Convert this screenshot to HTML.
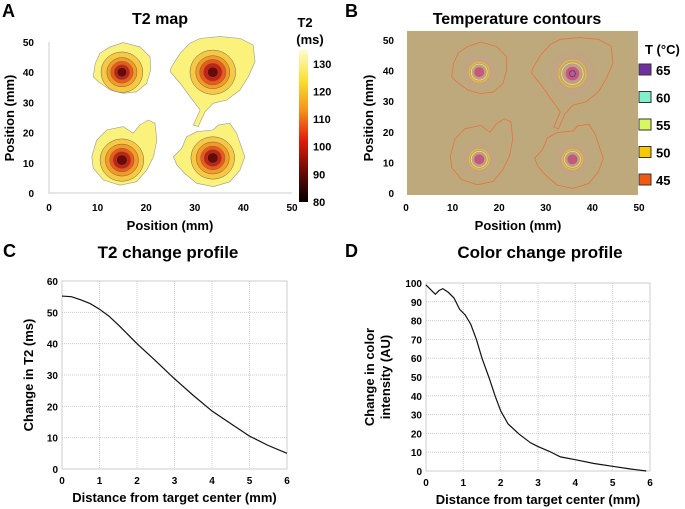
<!DOCTYPE html>
<html><head><meta charset="utf-8"><style>
body{margin:0;background:#fff;}
svg{display:block;font-family:"Liberation Sans",Arial,sans-serif;font-weight:bold;}
</style></head><body>
<svg id="fig" width="685" height="509" viewBox="0 0 685 509">
<defs>
<linearGradient id="cb" x1="0" y1="1" x2="0" y2="0">
<stop offset="0" stop-color="#000"/><stop offset="0.2" stop-color="#6a0a06"/><stop offset="0.4" stop-color="#e01a0c"/><stop offset="0.6" stop-color="#f5901c"/><stop offset="0.8" stop-color="#f8e030"/><stop offset="1" stop-color="#fdfbd0"/>
</linearGradient>
<radialGradient id="halo"><stop offset="0" stop-color="#c98c8a" stop-opacity="0.9"/><stop offset="0.5" stop-color="#c8a08a" stop-opacity="0.45"/><stop offset="1" stop-color="#bca87a" stop-opacity="0"/></radialGradient>
</defs>
<text x="2" y="17" font-size="18">A</text>
<text x="345" y="17" font-size="18">B</text>
<text x="3" y="257" font-size="18">C</text>
<text x="345" y="257" font-size="18">D</text>
<g id="pa"></g>
<g id="pb"></g>
<g id="pc"></g>
<g id="pd"></g>
</svg>
<script>
// Panel C data
const cX=[0,0.25,0.5,0.75,1,1.25,1.5,2,2.5,3,3.5,4,4.5,5,5.5,6];
const cY=[55.2,55,54,52.8,51,48.8,46,40,34.5,28.8,23.5,18.5,14.5,10.5,7.5,5];
const cXTicks=[0,1,2,3,4,5,6];
const cYTicks=[0,10,20,30,40,50,60];
// Panel D data
const dX=[0,0.1,0.25,0.35,0.45,0.6,0.75,0.9,1.05,1.2,1.35,1.5,1.7,1.85,2,2.2,2.5,2.8,3,3.3,3.6,4,4.5,5,5.5,5.9];
const dY=[99,97,94,96,97,95,92,86,83,78,70,60,49,40,32,25,19.5,15,13,10.5,7.5,6,4,2.5,1,0];
const dXTicks=[0,1,2,3,4,5,6];
const dYTicks=[0,10,20,30,40,50,60,70,80,90,100];
// Panel A/B axis ticks
const mapTicks=[0,10,20,30,40,50];
const cbTicks=[80,90,100,110,120,130];
const legendT=["65","60","55","50","45"];
const legendC=["#7030a0","#80f0c8","#d8f860","#f8c800","#f05a10"];
// T2 hotspot centers (mm) and ring radii (mm)
const blobCx=[15,33.7,15,33.7];
const blobCy=[40,40,10.9,11.6];
const ringR=[[4.3,3.1,2.3,1.6,1.0],[4.7,3.5,2.7,1.9,1.1],[4.5,3.4,2.5,1.8,1.1],[4.5,3.4,2.5,1.8,1.1]];
// yellow outer outlines (mm)
const outline=[
[[9.5,42.9],[10.5,46.3],[12.6,48.4],[15.3,49.8],[18.7,48.4],[20.8,45.1],[20.9,40.7],[20.1,36.3],[18,33.5],[15.3,33],[12.6,34.1],[10.1,36.9],[9.1,38.5]],
[[25.2,41.8],[27,46.3],[29,49.6],[31.1,51.2],[35.2,51.8],[39.3,51.2],[42,49],[42.4,43.5],[41,38.5],[39.3,34.1],[36.6,30.8],[33.8,29.7],[32.1,26.9],[30.7,22],[29.7,22.5],[31.1,27.5],[29,31.9],[27,36.3],[24.9,40.2]],
[[8.8,12],[9.8,17.5],[11.9,20.9],[15.3,22],[17.3,19.8],[18.7,22.5],[20.4,24.2],[21.8,23.1],[22.2,17.5],[21.5,12],[20.1,7.6],[18,3.7],[14.6,2.6],[11.2,4.3],[9.1,8.2]],
[[25.6,12],[27.3,14.8],[28.3,18.6],[30.4,20.3],[33.8,20.9],[34.8,22.5],[37.2,23.1],[38.6,19.8],[40.3,12],[39.3,7.6],[37.2,3.7],[33.8,2.1],[30.4,3.2],[27.9,6.5],[26.3,9.3]]
];
const ringCols=["#f9c842","#f59a22","#ee5a14","#c8200e","#6a0a06"];
const NS="http://www.w3.org/2000/svg";
function mk(p,t,a){const e=document.createElementNS(NS,t);for(const k in a)e.setAttribute(k,a[k]);p.appendChild(e);return e;}
function txt(p,x,y,s,fs,anchor,extra){const e=mk(p,'text',Object.assign({x:x,y:y,'font-size':fs,'text-anchor':anchor||'middle'},extra||{}));e.textContent=s;return e;}

// ---- Panel A
(function(){
const g=document.getElementById('pa');
const x0=49,x1=292,y0=193,y1=42;
const kx=(x1-x0)/50;
const sx=v=>x0+kx*v, sy=v=>y0-(y0-y1)*v/50;
txt(g,160,24,'T2 map',16);
const ax=mk(g,'path',{d:`M${x0} ${y1}V${y0}H${x1}`,stroke:'#ccc',fill:'none'});


mapTicks.forEach(t=>{txt(g,sx(t),211,String(t),10);txt(g,34,sy(t)+4,String(t),10,'end');});
txt(g,170,230,'Position (mm)',13);
txt(g,14,118,'Position (mm)',13,'middle',{transform:'rotate(-90 14 118)'});
for(let i=0;i<4;i++){
 const bg=mk(g,'g',{});
 
 
 const pts=outline[i].map(p=>sx(p[0])+','+sy(p[1])).join(' ');
 mk(bg,'polygon',{points:pts,fill:'#fbf27c',stroke:'#999','stroke-width':0.6});
 ringR[i].forEach((r,k)=>{mk(bg,'ellipse',{cx:sx(blobCx[i]),cy:sy(blobCy[i]),rx:r*kx,ry:r*kx*0.97,fill:ringCols[k],stroke:'#666','stroke-width':0.5});});
}
const cbT=50,cbB=202,vMin=80,vMax=135;
const cy=v=>cbB-(cbB-cbT)*(v-vMin)/(vMax-vMin);
const cb=mk(g,'rect',{x:299,y:cbT,width:9,height:cbB-cbT,fill:'url(#cb)'});


cbTicks.forEach(t=>txt(g,313,cy(t)+4,String(t),11,'start'));
txt(g,305,27,'T2',13);txt(g,310,44,'(ms)',13);
})();

// ---- Panel B
(function(){
const g=document.getElementById('pb');
const x0=407,x1=640,y0=193,y1=40;
const kx=(x1-x0)/50;
const sx=v=>x0+kx*v, sy=v=>y0-(y0-y1)*v/50;
txt(g,517,24,'Temperature contours',16);
const bg=mk(g,'rect',{x:407,y:31,width:231,height:164,fill:'#bda97c'});


mapTicks.forEach(t=>{txt(g,sx(t)-1,211,String(t),10);txt(g,394,sy(t)+4,String(t),10,'end');});
txt(g,518,230,'Position (mm)',13);
txt(g,373,118,'Position (mm)',13,'middle',{transform:'rotate(-90 373 118)'});
const bc=[[15.5,39.5,1.0],[35.5,39,1.35],[15.5,11,1.0],[35.5,11,1.0]];
bc.forEach((c,i)=>{
 const s=mk(g,'g',{});
 
 
 const ox=c[0]-blobCx[i], oy=c[1]-blobCy[i];
 const pts=outline[i].map(p=>sx(p[0]+ox)+','+sy(p[1]+oy)).join(' ');
 mk(s,'circle',{cx:sx(c[0]),cy:sy(c[1]),r:26*c[2],fill:'url(#halo)'});
 mk(s,'polygon',{points:pts,fill:'none',stroke:'#f06a30','stroke-width':0.7});
 mk(s,'circle',{cx:sx(c[0]),cy:sy(c[1]),r:10*c[2],fill:'none',stroke:'#f8c800','stroke-width':0.8});
 mk(s,'circle',{cx:sx(c[0]),cy:sy(c[1]),r:8*c[2],fill:'none',stroke:'#d8f060','stroke-width':0.8});
 mk(s,'circle',{cx:sx(c[0]),cy:sy(c[1]),r:5*c[2],fill:'#c25a7c'});
 if(i===1) mk(s,'circle',{cx:sx(c[0]),cy:sy(c[1]),r:3,fill:'none',stroke:'#6030a0','stroke-width':0.8});
});
legendT.forEach((t,i)=>{
 const y=64+i*27.5;
 const r=mk(g,'rect',{x:639,y:y,width:12,height:11,fill:legendC[i],stroke:'#333'});
 
 
 txt(g,656,y+11,t,13,'start');
});
txt(g,645,54,'T (°C)',13,'start');
})();

function linePanel(id,L,R,T,B,xMax,yMax,xs,ys,xt,yt,title,tx,ylab,ylx){
const g=document.getElementById(id);
const sx=v=>L+(R-L)*v/xMax, sy=v=>B-(B-T)*v/yMax;
txt(g,tx,258,title,17);
mk(g,'rect',{x:L,y:T,width:R-L,height:B-T,fill:'none',stroke:'#ccc'});
xt.forEach(t=>{mk(g,'line',{x1:sx(t),x2:sx(t),y1:T,y2:B,stroke:'#ccc','stroke-dasharray':'1,1'});txt(g,sx(t),B+15,String(t),10);});
yt.forEach(t=>{mk(g,'line',{x1:L,x2:R,y1:sy(t),y2:sy(t),stroke:'#ccc','stroke-dasharray':'1,1'});txt(g,L-4,sy(t)+4,String(t),10,'end');});
const p=mk(g,'polyline',{points:xs.map((x,i)=>sx(x)+','+sy(ys[i])).join(' '),fill:'none',stroke:'#111','stroke-width':1.2});


txt(g,(L+R)/2,B+33,'Distance from target center (mm)',13);
ylab.forEach((s,i)=>{const x=ylx+i*16;txt(g,x,(T+B)/2,s,13,'middle',{transform:`rotate(-90 ${x} ${(T+B)/2})`});});
}
linePanel('pc',62,287,281,469,6,60,cX,cY,cXTicks,cYTicks,'T2 change profile',168,['Change in T2 (ms)'],33);
linePanel('pd',426,650,283,471,6,100,dX,dY,dXTicks,dYTicks,'Color change profile',540,['Change in color','intensity (AU)'],374);
</script>
</body></html>
